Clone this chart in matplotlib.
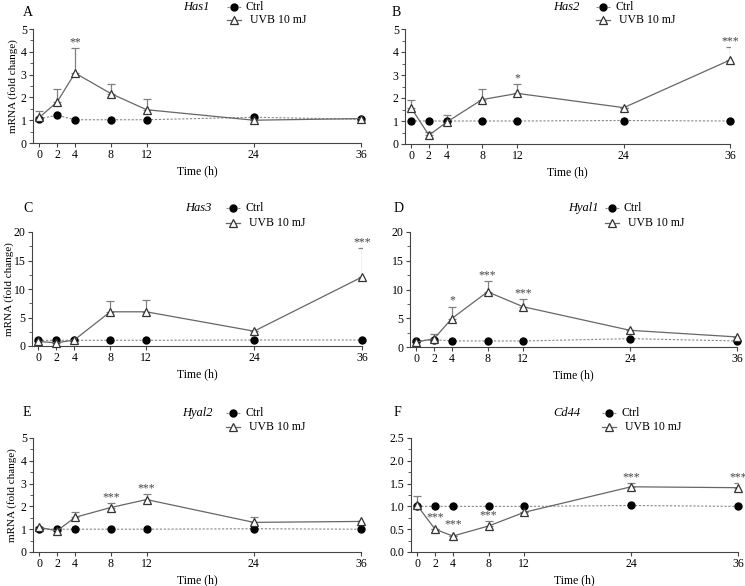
import numpy as np
import matplotlib as mpl
mpl.use('Agg')
import matplotlib.pyplot as plt
from matplotlib.lines import Line2D
from matplotlib.ticker import MultipleLocator, AutoMinorLocator

plt.rcParams['font.family'] = ['Liberation Serif', 'DejaVu Serif']

hours = [0, 2, 4, 8, 12, 24, 36]
hour_ticks = [0, 2, 4, 8, 12, 24, 36]

genes = ['Has1', 'Has2', 'Has3', 'Hyal1', 'Hyal2', 'Cd44']
letters = ['A', 'B', 'C', 'D', 'E', 'F']

ctrl_has1 = [1.06, 1.22, 1.02, 1.02, 1.02, 1.13, 1.04]
uvb_has1 = [1.12, 1.8, 3.07, 2.17, 1.46, 1.0, 1.07]
err_has1 = [0.28, 0.55, 1.1, 0.43, 0.45, 0.0, 0.0]
stars_has1 = ['', '', '**', '', '', '', '']

ctrl_has2 = [1.0, 1.0, 1.0, 1.0, 1.0, 1.02, 1.0]
uvb_has2 = [1.57, 0.38, 0.95, 1.93, 2.2, 1.58, 3.65]
err_has2 = [0.35, 0.15, 0.32, 0.48, 0.4, 0.0, 0.55]
stars_has2 = ['', '', '', '', '*', '', '***']

ctrl_has3 = [1.0, 1.0, 1.0, 1.0, 1.0, 1.05, 1.05]
uvb_has3 = [0.8, 0.55, 1.05, 6.0, 6.0, 2.6, 12.1]
err_has3 = [0.0, 0.0, 0.0, 1.85, 2.0, 0.0, 5.1]
stars_has3 = ['', '', '', '', '', '', '***']

ctrl_hyal1 = [1.05, 1.28, 1.05, 1.05, 1.05, 1.45, 1.05]
uvb_hyal1 = [0.85, 1.45, 4.95, 9.6, 7.0, 2.9, 1.75]
err_hyal1 = [0.0, 0.85, 2.05, 1.9, 1.3, 0.0, 0.0]
stars_hyal1 = ['', '', '*', '***', '***', '', '']

ctrl_hyal2 = [1.0, 1.0, 1.0, 1.0, 1.0, 1.02, 1.0]
uvb_hyal2 = [1.08, 0.93, 1.52, 1.95, 2.3, 1.3, 1.34]
err_hyal2 = [0.0, 0.0, 0.25, 0.18, 0.23, 0.23, 0.0]
stars_hyal2 = ['', '', '', '***', '***', '', '']

ctrl_cd44 = [1.0, 1.0, 1.0, 1.0, 1.0, 1.02, 1.0]
uvb_cd44 = [1.02, 0.5, 0.35, 0.57, 0.87, 1.43, 1.41]
err_cd44 = [0.2, 0.0, 0.0, 0.1, 0.0, 0.08, 0.1]
stars_cd44 = ['', '***', '***', '***', '', '***', '***']

ctrl_all = [ctrl_has1, ctrl_has2, ctrl_has3, ctrl_hyal1, ctrl_hyal2, ctrl_cd44]
uvb_all = [uvb_has1, uvb_has2, uvb_has3, uvb_hyal1, uvb_hyal2, uvb_cd44]
err_all = [err_has1, err_has2, err_has3, err_hyal1, err_hyal2, err_cd44]
stars_all = [stars_has1, stars_has2, stars_has3, stars_hyal1, stars_hyal2, stars_cd44]
ymax_all = [5, 5, 20, 20, 5, 2.5]
ystep_all = [1, 1, 5, 5, 1, 0.5]

W, H = 745, 586
# axes boxes in pixels: left, right, top, bottom
boxes = [(33, 361, 29, 143), (405, 730, 29, 144),
         (32, 362, 232, 346), (410, 737, 232, 347),
         (33, 361, 438, 552), (411, 738, 438, 552)]
letter_pos = [(23, 13), (392, 13), (23, 208), (394, 208), (23, 413), (394, 413)]
gene_pos = [(210, 7), (580, 7), (212, 208), (599, 208), (213, 413), (580, 413)]
leg_x = [234, 603, 233, 612, 233, 609]
leg_y = [(7, 20), (7, 20), (208, 223), (208, 223), (413, 427), (413, 427)]
ylab_x = [13, None, 9, None, 12, None]

fig = plt.figure(figsize=(W / 100, H / 100), dpi=100)


def fx(px):
    return px / W


def fy(py):
    return 1 - py / H


line_c = '#666666'
for i in range(6):
    l, r, t, b = boxes[i]
    ax = fig.add_axes([l / W, (H - b) / H, (r - l) / W, (b - t) / H])
    ymax = ymax_all[i]

    ax.errorbar(hours, uvb_all[i], yerr=[np.zeros(7), err_all[i]], fmt='none',
                ecolor='#808080', elinewidth=0.9, capsize=3, capthick=0.9, zorder=2)
    ax.plot(hours, ctrl_all[i], linestyle='--', dashes=(2, 1.5), color='#888888', lw=0.8,
            marker='o', markersize=5, markerfacecolor='black', markeredgecolor='black',
            zorder=3, clip_on=False)
    ax.plot(hours, uvb_all[i], linestyle='-', color=line_c, lw=0.9,
            marker='^', markersize=6, markerfacecolor='white', markeredgecolor='#333333',
            markeredgewidth=0.9, zorder=4, clip_on=False)

    for x, y, e, s in zip(hours, uvb_all[i], err_all[i], stars_all[i]):
        if s:
            top = y + e if e > 0 else y + ymax * 0.05
            ax.text(x, top, s, ha='center', va='bottom', fontsize=8.5,
                    color='#444444', clip_on=False)

    ax.set_xlim(-0.7, 36)
    ax.set_ylim(0, ymax)
    ax.set_xticks(hour_ticks)
    ax.yaxis.set_major_locator(MultipleLocator(ystep_all[i]))
    ax.yaxis.set_minor_locator(AutoMinorLocator(2))
    if ymax == 2.5:
        ax.yaxis.set_major_formatter(mpl.ticker.FormatStrFormatter('%.1f'))
    ax.spines['top'].set_visible(False)
    ax.spines['right'].set_visible(False)
    for sp in ('left', 'bottom'):
        ax.spines[sp].set_color('#444444')
        ax.spines[sp].set_linewidth(0.8)
    ax.tick_params(axis='both', which='major', labelsize=8.5, length=3, width=0.8,
                   color='#444444', pad=1.5)
    ax.tick_params(axis='y', which='minor', length=2, width=0.6, color='#444444')
    ax.set_xlabel('Time (h)', fontsize=8.5, labelpad=3)
    if ylab_x[i] is not None:
        fig.text(fx(ylab_x[i]), fy((t + b) / 2), 'mRNA (fold change)', fontsize=8,
                 rotation=90, ha='center', va='center')

    lx, ly = letter_pos[i]
    fig.text(fx(lx), fy(ly), letters[i], fontsize=10, ha='left', va='center')
    gx, gy = gene_pos[i]
    fig.text(fx(gx), fy(gy), genes[i], fontsize=9, style='italic', ha='right', va='center')

    mx = leg_x[i]
    y1, y2 = leg_y[i]
    fig.add_artist(Line2D([fx(mx - 7), fx(mx + 7)], [fy(y1), fy(y1)], transform=fig.transFigure,
                          linestyle='--', dashes=(2, 1.5), color='#888888', lw=0.8))
    fig.add_artist(Line2D([fx(mx)], [fy(y1)], transform=fig.transFigure, marker='o',
                          markersize=5, color='black', linestyle='none'))
    fig.text(fx(mx + 12), fy(y1), 'Ctrl', fontsize=8.5, ha='left', va='center')
    fig.add_artist(Line2D([fx(mx - 7), fx(mx + 7)], [fy(y2), fy(y2)], transform=fig.transFigure,
                          color=line_c, lw=0.9))
    fig.add_artist(Line2D([fx(mx)], [fy(y2)], transform=fig.transFigure, marker='^',
                          markersize=6, markerfacecolor='white', markeredgecolor='#333333',
                          markeredgewidth=0.9, linestyle='none'))
    fig.text(fx(mx + 16), fy(y2), 'UVB 10 mJ', fontsize=8.5, ha='left', va='center')

fig.savefig('out.png', dpi=100)
